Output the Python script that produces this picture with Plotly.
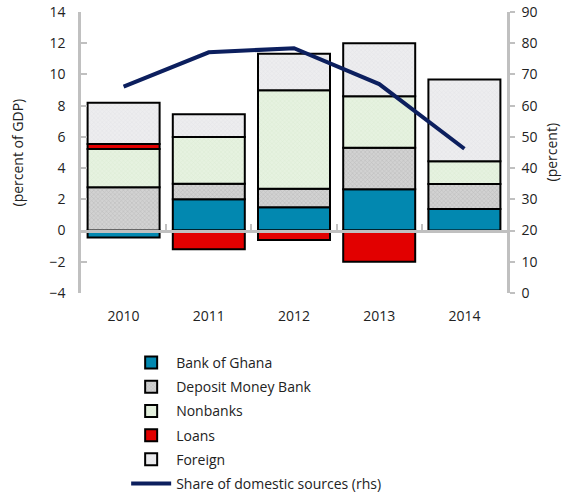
import plotly.graph_objects as go

years = ["2010", "2011", "2012", "2013", "2014"]
bank_of_ghana = [-0.45, 2.0, 1.5, 2.65, 1.38]
deposit_money_bank = [2.77, 1.0, 1.17, 2.65, 1.6]
nonbanks = [2.45, 3.0, 6.32, 3.3, 1.46]
loans = [0.32, -1.2, -0.6, -2.0, None]
foreign = [2.65, 1.45, 2.33, 3.4, 5.23]
share_domestic = [66.1, 77.1, 78.4, 66.9, 46.2]

x = list(range(len(years)))
GREY = "#c0c0c0"
FONT = "Open Sans"

fig = go.Figure()

def bar(name, vals, color, pattern=None):
    marker = dict(color=color, line=dict(color="black", width=2))
    if pattern:
        marker["pattern"] = pattern
    fig.add_trace(go.Bar(x=x, y=vals, name=name, marker=marker,
                         legendgroup=name))

bar("Bank of Ghana", bank_of_ghana, "#0288b0")
bar("Deposit Money Bank", deposit_money_bank, "#cbcbcb",
    dict(shape="x", size=3, solidity=0.35, fgcolor="#a9a9a9", bgcolor="#d2d2d2"))
bar("Nonbanks", nonbanks, "#e3f0dc",
    dict(shape="x", size=3, solidity=0.3, fgcolor="#cfe3c6", bgcolor="#e6f2e0"))
bar("Loans", loans, "#e20000")
bar("Foreign", foreign, "#e9e9eb",
    dict(shape="x", size=3, solidity=0.3, fgcolor="#d8d8dc", bgcolor="#ededef"))

fig.add_trace(go.Scatter(x=x, y=share_domestic, yaxis="y2", mode="lines",
                         name="Share of domestic sources (rhs)",
                         legendgroup="share",
                         line=dict(color="#0c1f5e", width=4)))

# invisible helper so the zero-crossing category axis is rendered
fig.add_trace(go.Scatter(x=[0], y=[0], xaxis="x3", yaxis="y", mode="none",
                         showlegend=False, hoverinfo="skip"))

fig.update_layout(
    width=562, height=494,
    margin=dict(l=81, r=55, t=12, b=201, autoexpand=False),
    plot_bgcolor="white", paper_bgcolor="white",
    barmode="relative", bargap=0.155,
    font=dict(family=FONT, size=14, color="#222222"),
    showlegend=True,
    legend=dict(x=0.106, y=-0.192, xanchor="left", yanchor="top",
                traceorder="grouped", tracegroupgap=3,
                font=dict(size=14, family=FONT), itemwidth=40,
                bgcolor="rgba(0,0,0,0)"),
    xaxis=dict(range=[-0.5, 4.5], tickvals=x, ticktext=years,
               showline=False, showgrid=False, zeroline=False, ticks="",
               ticklabelstandoff=13, automargin=False),
    xaxis3=dict(range=[-0.5, 4.5], overlaying="x", anchor="free",
                position=4 / 18, showline=True, linecolor=GREY, linewidth=2.5,
                ticks="inside", ticklen=6, tickwidth=2, tickcolor=GREY,
                tickvals=[0.5, 1.5, 2.5, 3.5], showticklabels=False,
                showgrid=False, zeroline=False, layer="above traces",
                automargin=False),
    yaxis=dict(range=[-4, 14], dtick=2, showgrid=False, zeroline=False,
               showline=True, linecolor=GREY, linewidth=2.5,
               ticks="inside", ticklen=6, tickwidth=2, tickcolor=GREY,
               ticklabelstandoff=10, automargin=False,
               ticklabeloverflow="allow"),
    yaxis2=dict(range=[0, 90], dtick=10, overlaying="y", side="right",
                showgrid=False, zeroline=False,
                showline=True, linecolor=GREY, linewidth=2.5,
                ticks="outside", ticklen=5, tickwidth=2, tickcolor=GREY,
                ticklabelstandoff=4, automargin=False,
                ticklabeloverflow="allow"),
    annotations=[
        dict(text="(percent of GDP)", xref="paper", yref="paper",
             x=-64 / 426, y=0.5, textangle=-90, showarrow=False,
             xanchor="center", yanchor="middle", font=dict(size=14)),
        dict(text="(percent)", xref="paper", yref="paper",
             x=1 + 44 / 426, y=0.5, textangle=-90, showarrow=False,
             xanchor="center", yanchor="middle", font=dict(size=14)),
    ],
)

fig.write_html("out.html", config={"displayModeBar": False},
               post_script="document.body.style.margin='0';")
